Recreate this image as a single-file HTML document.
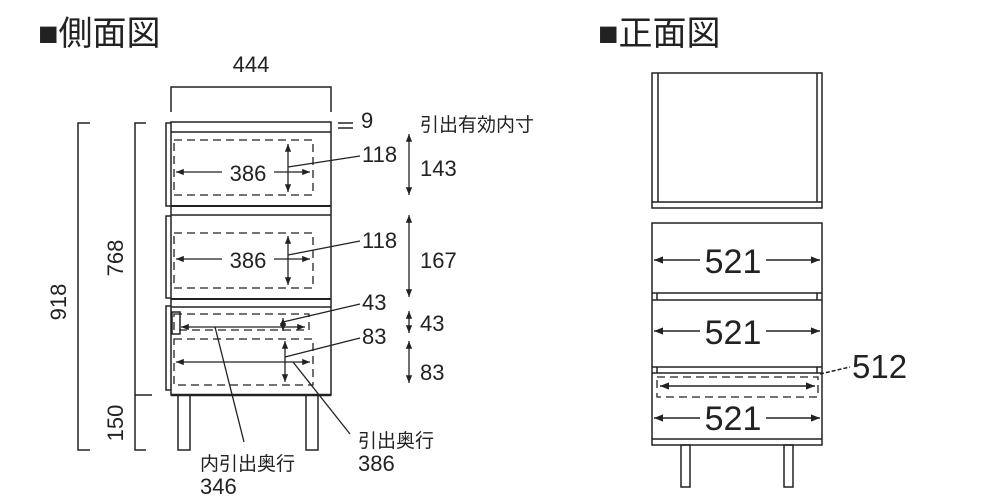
<!DOCTYPE html>
<html><head><meta charset="utf-8"><style>
html,body{margin:0;padding:0;background:#fff;}
svg{display:block;}
text{font-family:"Liberation Sans","Noto Sans CJK JP",sans-serif;fill:#222;}
</style></head><body>
<svg width="1000" height="500" viewBox="0 0 1000 500" xmlns="http://www.w3.org/2000/svg">
<defs>
<marker id="a" viewBox="0 0 10 10" refX="10" refY="5" markerWidth="6" markerHeight="6" orient="auto-start-reverse"><path d="M0,1 L10,5 L0,9 z" fill="#222"/></marker>
</defs>
<text x="38" y="45" font-size="34">■側面図</text>
<text x="598" y="45" font-size="34">■正面図</text>
<g stroke="#222" stroke-width="1.5" fill="none">
<polyline points="171,112 171,87 331,87 331,112"/>
<polyline points="90,123 78,123 78,450 90,450"/>
<polyline points="146,123 135,123 135,450 146,450"/>
<line x1="135" y1="395" x2="152" y2="395"/>
<rect x="171" y="122" width="160" height="273"/>
<line x1="171" y1="132" x2="331" y2="132"/>
<line x1="171" y1="206" x2="331" y2="206" stroke-width="2"/>
<line x1="171" y1="215" x2="331" y2="215"/>
<line x1="171" y1="299" x2="331" y2="299" stroke-width="2"/>
<line x1="171" y1="307" x2="331" y2="307"/>
<line x1="171" y1="395" x2="331" y2="395" stroke-width="2.5"/>
<polyline points="171,123 166,123 166,206 171,206"/>
<polyline points="171,216 166,216 166,298 171,298"/>
<polyline points="171,306 166,306 166,390 171,390"/>
<rect x="172" y="312" width="8" height="22"/>
<rect x="178" y="395" width="12" height="55"/>
<rect x="306" y="395" width="12" height="55"/>
<line x1="338" y1="123" x2="353" y2="123"/><line x1="338" y1="128" x2="353" y2="128"/>
</g>
<g stroke="#222" stroke-width="1.3" fill="none" stroke-dasharray="8,5">
<rect x="174" y="140" width="139" height="55"/>
<rect x="174" y="233" width="139" height="55"/>
<rect x="174" y="314" width="135" height="16"/>
<rect x="174" y="339" width="139" height="46"/>
<rect x="657" y="377" width="161" height="20"/>
</g>
<g stroke="#222" stroke-width="1.3" fill="none">
<line x1="222" y1="172" x2="176" y2="172" marker-end="url(#a)"/>
<line x1="274" y1="172" x2="310" y2="172" marker-end="url(#a)"/>
<line x1="288" y1="144" x2="288" y2="192" marker-start="url(#a)" marker-end="url(#a)"/>
<line x1="288" y1="167" x2="360" y2="156"/>
<line x1="222" y1="259" x2="176" y2="259" marker-end="url(#a)"/>
<line x1="274" y1="259" x2="310" y2="259" marker-end="url(#a)"/>
<line x1="288" y1="236" x2="288" y2="285" marker-start="url(#a)" marker-end="url(#a)"/>
<line x1="288" y1="255" x2="360" y2="241"/>
<line x1="181" y1="327" x2="305" y2="327" marker-start="url(#a)" marker-end="url(#a)"/>
<line x1="283" y1="318" x2="283" y2="331" marker-start="url(#a)" marker-end="url(#a)"/>
<line x1="283" y1="322" x2="360" y2="304"/>
<line x1="176" y1="362" x2="310" y2="362" marker-start="url(#a)" marker-end="url(#a)"/>
<line x1="285" y1="341" x2="285" y2="382" marker-start="url(#a)" marker-end="url(#a)"/>
<line x1="285" y1="357" x2="360" y2="338"/>
<line x1="215" y1="327" x2="244" y2="442"/>
<line x1="293" y1="362" x2="350" y2="434"/>
<line x1="409" y1="134" x2="409" y2="195" marker-start="url(#a)" marker-end="url(#a)"/>
<line x1="409" y1="215" x2="409" y2="297" marker-start="url(#a)" marker-end="url(#a)"/>
<line x1="409" y1="311" x2="409" y2="333" marker-start="url(#a)" marker-end="url(#a)"/>
<line x1="409" y1="341" x2="409" y2="383" marker-start="url(#a)" marker-end="url(#a)"/>
</g>
<g font-size="22">
<text x="251" y="72" text-anchor="middle">444</text>
<text x="361" y="128">9</text>
<text x="420" y="131" font-size="19">引出有効内寸</text>
<text x="248" y="181" text-anchor="middle">386</text>
<text x="248" y="268" text-anchor="middle">386</text>
<text x="362" y="162">118</text>
<text x="362" y="248">118</text>
<text x="420" y="176">143</text>
<text x="420" y="268">167</text>
<text x="362" y="310">43</text>
<text x="362" y="344">83</text>
<text x="420" y="331">43</text>
<text x="420" y="380">83</text>
<text x="200" y="470" font-size="19">内引出奥行</text>
<text x="200" y="494">346</text>
<text x="358" y="447" font-size="19">引出奥行</text>
<text x="358" y="471">386</text>
<text transform="translate(66,302) rotate(-90)" text-anchor="middle">918</text>
<text transform="translate(123,258) rotate(-90)" text-anchor="middle">768</text>
<text transform="translate(123,423) rotate(-90)" text-anchor="middle">150</text>
</g>
<g stroke="#222" stroke-width="1.5" fill="none">
<rect x="652" y="73" width="170" height="135"/>
<line x1="658" y1="73" x2="658" y2="202"/>
<line x1="817" y1="73" x2="817" y2="202"/>
<line x1="652" y1="202" x2="822" y2="202"/>
<rect x="652" y="223" width="170" height="222"/>
<line x1="652" y1="293" x2="822" y2="293"/><line x1="652" y1="300" x2="822" y2="300"/>
<line x1="657" y1="293" x2="657" y2="300"/><line x1="817" y1="293" x2="817" y2="300"/>
<line x1="652" y1="367" x2="822" y2="367"/><line x1="652" y1="373" x2="822" y2="373"/>
<line x1="657" y1="367" x2="657" y2="373"/><line x1="817" y1="367" x2="817" y2="373"/>
<line x1="652" y1="439" x2="822" y2="439"/>
<rect x="681" y="445" width="9" height="42"/>
<rect x="784" y="445" width="9" height="42"/>
</g>
<g stroke="#222" stroke-width="1.5" fill="none">
<line x1="700" y1="260" x2="654" y2="260" marker-end="url(#a)"/>
<line x1="766" y1="260" x2="820" y2="260" marker-end="url(#a)"/>
<line x1="700" y1="331" x2="654" y2="331" marker-end="url(#a)"/>
<line x1="766" y1="331" x2="820" y2="331" marker-end="url(#a)"/>
<line x1="700" y1="418" x2="654" y2="418" marker-end="url(#a)"/>
<line x1="766" y1="418" x2="820" y2="418" marker-end="url(#a)"/>
<line x1="660" y1="386" x2="815" y2="386" marker-start="url(#a)" marker-end="url(#a)"/>
<line x1="820" y1="374" x2="850" y2="367" stroke-dasharray="4,2"/>
</g>
<g font-size="34">
<text x="733" y="273" text-anchor="middle">521</text>
<text x="733" y="344" text-anchor="middle">521</text>
<text x="733" y="430" text-anchor="middle">521</text>
<text x="852" y="378" font-size="33">512</text>
</g>
</svg>
</body></html>
